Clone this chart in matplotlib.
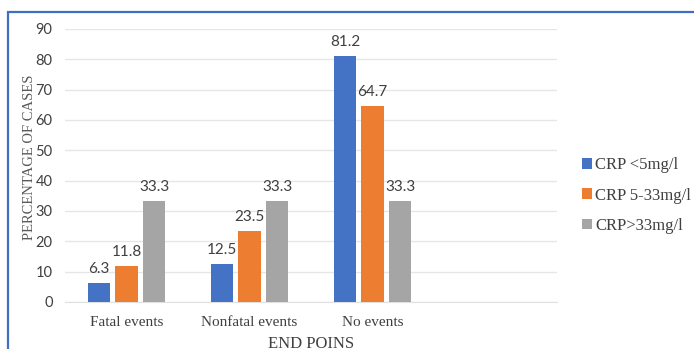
import matplotlib
matplotlib.use("Agg")
import matplotlib.pyplot as plt
from matplotlib.patches import Rectangle
import numpy as np

categories = ["Fatal events", "Nonfatal events", "No events", ""]
series_names = ["CRP <5mg/l", "CRP 5-33mg/l", "CRP>33mg/l"]
crp_low = [6.3, 12.5, 81.2, None]
crp_mid = [11.8, 23.5, 64.7, None]
crp_high = [33.3, 33.3, 33.3, None]
y_ticks = [0, 10, 20, 30, 40, 50, 60, 70, 80, 90]

colors = ["#4472C4", "#ED7D31", "#A5A5A5"]
serif = ["Liberation Serif", "DejaVu Serif"]
sans = ["Lato", "DejaVu Sans"]

fig = plt.figure(figsize=(6.94, 3.49), dpi=100)
ax = fig.add_axes([0.0937, 0.1347, 0.7089, 0.7823])

# outer frame around the chart, running off the right and bottom edges
frame = Rectangle((8 / 694, -0.2), 1.2, 1 - 12 / 349 + 0.2,
                  transform=fig.transFigure, fill=False,
                  edgecolor="#3F6FC0", linewidth=1.6, clip_on=False)
fig.add_artist(frame)

x = np.arange(len(categories))
width = 0.18
pitch = 0.224
all_series = [crp_low, crp_mid, crp_high]
for i, (vals, name, col) in enumerate(zip(all_series, series_names, colors)):
    xs = [xi + (i - 1) * pitch for xi, v in zip(x, vals) if v is not None]
    vs = [v for v in vals if v is not None]
    bars = ax.bar(xs, vs, width=width, color=col, label=name, zorder=3)
    for b, v in zip(bars, vs):
        ax.annotate(f"{v:.1f}", (b.get_x() + b.get_width() / 2, v),
                    xytext=(0, 5), textcoords="offset points",
                    ha="center", va="bottom", fontsize=11,
                    color="#404040", family=sans)

ax.set_xlim(-0.5, len(categories) - 0.5)
ax.set_ylim(0, 90)
ax.set_yticks(y_ticks)
ax.set_xticks(x)
ax.set_xticklabels(categories, family=serif, fontsize=11, color="#404040")
for lbl in ax.get_yticklabels():
    lbl.set_family(sans)
    lbl.set_fontsize(10.5)
    lbl.set_color("#404040")
ax.tick_params(axis="y", length=0, pad=9)
ax.tick_params(axis="x", length=0, pad=10)
ax.grid(axis="y", color="#E6E6E6", linewidth=1, zorder=0)
for s in ["top", "right", "left"]:
    ax.spines[s].set_visible(False)
ax.spines["bottom"].set_color("#E0E0E0")

ax.set_ylabel("PERCENTAGE OF CASES", family=serif, fontsize=10.5,
              color="#595959", labelpad=4)
ax.yaxis.set_label_coords(-0.058, 0.53)
ax.set_xlabel("END POINS", family=serif, fontsize=12, color="#404040",
              labelpad=5)

leg = ax.legend(loc="center left", bbox_to_anchor=(1.02, 0.39),
                frameon=False, handlelength=0.6, handleheight=0.6,
                handletextpad=0.2, labelspacing=0.85,
                prop={"family": serif, "size": 12})
for t in leg.get_texts():
    t.set_color("#404040")

fig.savefig("out.png", dpi=100)
